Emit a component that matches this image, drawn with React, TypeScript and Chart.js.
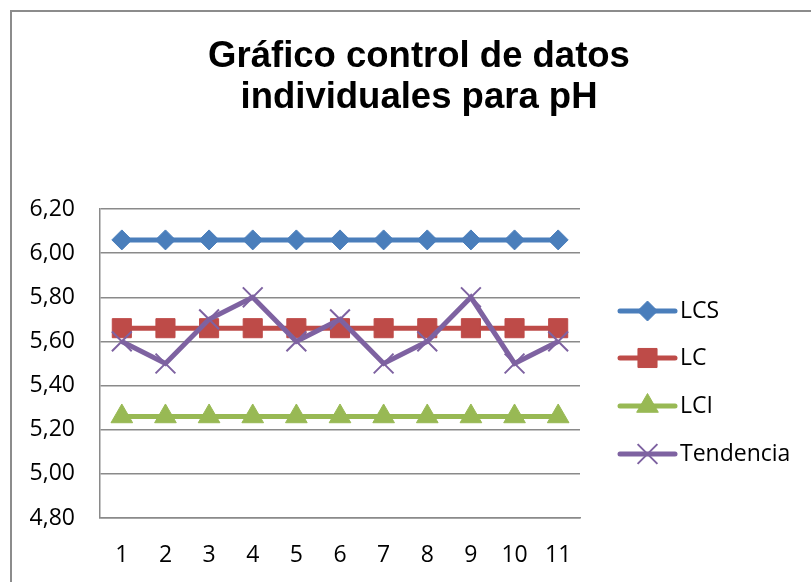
import React, { useEffect, useRef } from "react";
import { Chart, registerables } from "chart.js";
import { drawPoint } from "chart.js/helpers";

Chart.register(...registerables);

const titleLines = ["Gráfico control de datos", "individuales para pH"];
const categories = ["1", "2", "3", "4", "5", "6", "7", "8", "9", "10", "11"];
const lcsValues = [6.06, 6.06, 6.06, 6.06, 6.06, 6.06, 6.06, 6.06, 6.06, 6.06, 6.06];
const lcValues = [5.66, 5.66, 5.66, 5.66, 5.66, 5.66, 5.66, 5.66, 5.66, 5.66, 5.66];
const lciValues = [5.26, 5.26, 5.26, 5.26, 5.26, 5.26, 5.26, 5.26, 5.26, 5.26, 5.26];
const tendenciaValues = [5.6, 5.5, 5.7, 5.8, 5.6, 5.7, 5.5, 5.6, 5.8, 5.5, 5.6];
const seriesNames = ["LCS", "LC", "LCI", "Tendencia"];
const yMin = 4.8;
const yMax = 6.2;
const yStep = 0.2;

const TICK_FONT = "'Open Sans', 'DejaVu Sans', sans-serif";
const GRID = "#8a8a8a";

const framePlugin = {
  id: "frame",
  beforeDraw(chart: any) {
    const ctx = chart.ctx;
    ctx.save();
    ctx.strokeStyle = "#8c8c8c";
    ctx.lineWidth = 2;
    ctx.beginPath();
    ctx.moveTo(11, chart.height);
    ctx.lineTo(11, 11);
    ctx.lineTo(chart.width, 11);
    ctx.stroke();
    ctx.restore();
  },
};

const titlePlugin = {
  id: "excelTitle",
  afterDraw(chart: any) {
    const ctx = chart.ctx;
    ctx.save();
    ctx.fillStyle = "#000";
    ctx.font = "bold 36.5px 'Liberation Sans', Arial, sans-serif";
    ctx.textAlign = "center";
    ctx.textBaseline = "alphabetic";
    ctx.fillText(titleLines[0], 419, 67);
    ctx.fillText(titleLines[1], 419, 108);
    ctx.restore();
  },
};

const legendPlugin = {
  id: "excelLegend",
  afterDraw(chart: any) {
    const ctx = chart.ctx;
    const x0 = chart.chartArea.right + 40;
    const x1 = x0 + 55;
    const ys = [311, 358, 406, 454];
    ctx.save();
    chart.data.datasets.forEach((ds: any, i: number) => {
      const y = ys[i];
      ctx.strokeStyle = ds.borderColor;
      ctx.lineWidth = ds.borderWidth;
      ctx.lineCap = "round";
      ctx.beginPath();
      ctx.moveTo(x0, y);
      ctx.lineTo(x1, y);
      ctx.stroke();
      ctx.lineCap = "butt";
      ctx.fillStyle = ds.pointBackgroundColor;
      ctx.strokeStyle = ds.pointBorderColor;
      ctx.lineWidth = ds.pointBorderWidth;
      drawPoint(
        ctx,
        { pointStyle: ds.pointStyle, radius: ds.pointRadius, rotation: 0, borderWidth: ds.pointBorderWidth },
        (x0 + x1) / 2,
        y
      );
      ctx.fillStyle = "#000";
      ctx.font = `23px ${TICK_FONT}`;
      ctx.textAlign = "left";
      ctx.textBaseline = "middle";
      ctx.fillText(ds.label, x1 + 5, y);
    });
    ctx.restore();
  },
};

export default function App() {
  const ref = useRef<HTMLCanvasElement | null>(null);

  useEffect(() => {
    if (!ref.current) return;
    const mk = (label: string, data: number[], color: string, style: string, r: number, bw: number, order: number) => ({
      label,
      data,
      borderColor: color,
      backgroundColor: color,
      borderWidth: 5,
      pointStyle: style,
      pointRadius: r,
      pointHoverRadius: r,
      pointBackgroundColor: color,
      pointBorderColor: color,
      pointBorderWidth: bw,
      tension: 0,
      order,
    });
    const chart = new Chart(ref.current, {
      type: "line",
      data: {
        labels: categories,
        datasets: [
          mk(seriesNames[0], lcsValues, "#4A7EBB", "rectRot", 10, 1, 3),
          mk(seriesNames[1], lcValues, "#BE4B48", "rect", 13.5, 1, 2),
          mk(seriesNames[2], lciValues, "#98B954", "triangle", 12.5, 1, 1),
          mk(seriesNames[3], tendenciaValues, "#7E62A1", "crossRot", 14, 2, 0),
        ] as any,
      },
      options: {
        animation: false,
        responsive: false,
        layout: { padding: { top: 209, left: 11, right: 231, bottom: 0 } },
        plugins: {
          legend: { display: false },
          title: { display: false },
          tooltip: { enabled: false },
        },
        scales: {
          x: {
            offset: true,
            grid: { display: false, drawTicks: false },
            border: { display: true, color: GRID, width: 1.5 },
            ticks: {
              color: "#000",
              font: { family: TICK_FONT, size: 23 },
              padding: 24,
              maxRotation: 0,
              autoSkip: false,
            },
            afterFit: (s: any) => {
              s.height = 64;
            },
          },
          y: {
            min: yMin,
            max: yMax,
            grid: { color: GRID, lineWidth: 1.5, drawTicks: false },
            border: { display: true, color: GRID, width: 1.5 },
            ticks: {
              stepSize: yStep,
              color: "#000",
              font: { family: TICK_FONT, size: 23 },
              padding: 25,
              callback: (v: any) => Number(v).toFixed(2).replace(".", ","),
            },
            afterFit: (s: any) => {
              s.width = 89;
            },
          },
        },
      },
      plugins: [framePlugin, titlePlugin, legendPlugin],
    });
    return () => chart.destroy();
  }, []);

  return (
    <div style={{ position: "fixed", left: 0, top: 0, width: 811, height: 582, background: "#fff" }}>
      <canvas ref={ref} width={811} height={582} style={{ display: "block", width: 811, height: 582 }} />
    </div>
  );
}
